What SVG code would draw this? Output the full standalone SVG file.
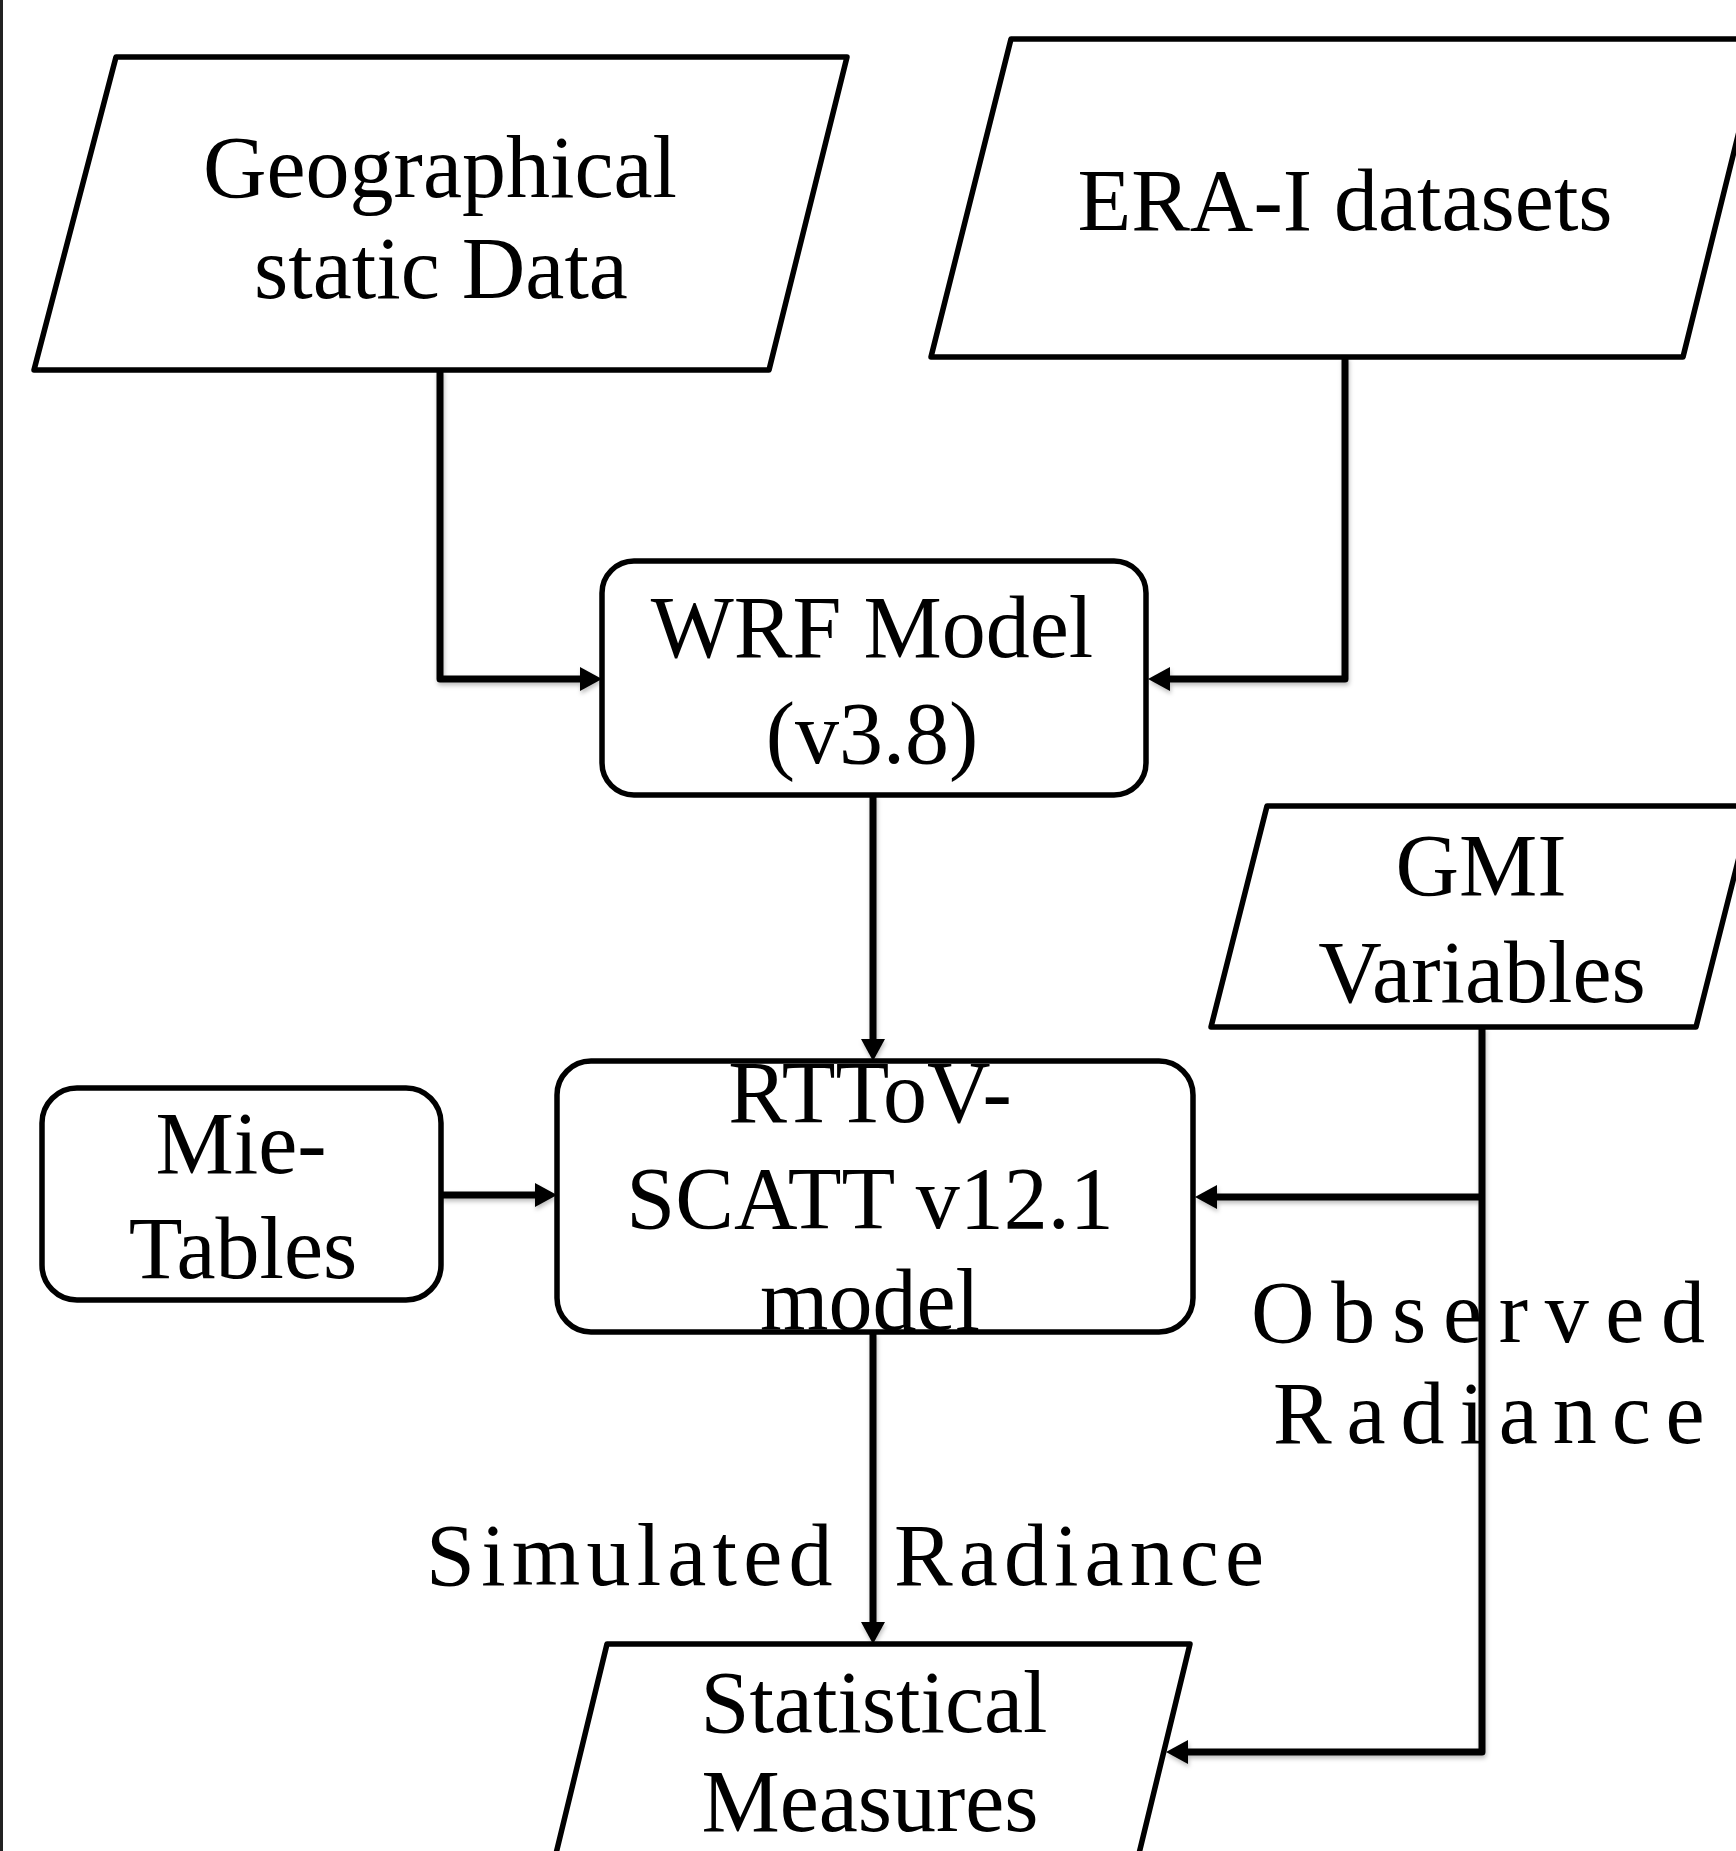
<svg xmlns="http://www.w3.org/2000/svg" width="1736" height="1851" viewBox="0 0 1736 1851">
  <style>
    .shape { fill: #ffffff; stroke: #000000; stroke-width: 5.5; stroke-linejoin: round; }
    .lbl { font-family: "Liberation Serif", "Times New Roman", serif; font-size: 88px; fill: #000000; text-anchor: middle; }
    .free { font-family: "Liberation Serif", "Times New Roman", serif; font-size: 88px; fill: #000000; }
    .conn { fill: none; stroke: #000000; stroke-width: 7; stroke-linejoin: round; }
  </style>
  <defs>
    <marker id="arrow" viewBox="0 0 22 24" markerWidth="22" markerHeight="24" refX="0" refY="12" markerUnits="userSpaceOnUse" orient="auto">
      <path d="M0,0 L22,12 L0,24 Z" fill="#000000"/>
    </marker>
    <filter id="shadow" x="-10%" y="-10%" width="120%" height="120%">
      <feDropShadow dx="1" dy="3" stdDeviation="2" flood-color="#000000" flood-opacity="0.25"/>
    </filter>
  </defs>

  <rect x="0" y="0" width="1736" height="1851" fill="#ffffff"/>
  <line x1="1.5" y1="0" x2="1.5" y2="1851" stroke="#222222" stroke-width="3"/>

  <g id="connectors" filter="url(#shadow)">
    <path class="conn" d="M440,370 V679 H580" marker-end="url(#arrow)"/>
    <path class="conn" d="M1345,357 V679 H1170" marker-end="url(#arrow)"/>
    <path class="conn" d="M873,795 V1039" marker-end="url(#arrow)"/>
    <path class="conn" d="M441,1195 H535" marker-end="url(#arrow)"/>
    <path class="conn" d="M1482,1027 V1752 H1188" marker-end="url(#arrow)"/>
    <path class="conn" d="M1482,1197 H1217" marker-end="url(#arrow)"/>
    <path class="conn" d="M873,1333 V1622" marker-end="url(#arrow)"/>
  </g>

  <g id="geographical">
    <polygon class="shape" points="116,57 847,57 769,370 34,370"/>
    <text class="lbl" x="440" y="197">Geographical</text>
    <text class="lbl" x="441" y="298">static Data</text>
  </g>

  <g id="era">
    <polygon class="shape" points="1011,39 1762,39 1683,357 931,357"/>
    <text class="lbl" x="1345" y="230">ERA-I datasets</text>
  </g>

  <g id="wrf">
    <rect class="shape" x="602" y="561" width="544" height="234" rx="32" ry="32"/>
    <text class="lbl" x="872" y="657">WRF Model</text>
    <text class="lbl" x="872" y="763">(v3.8)</text>
  </g>

  <g id="gmi">
    <polygon class="shape" points="1267,806 1752,806 1696,1027 1211,1027"/>
    <text class="lbl" x="1481" y="895">GMI</text>
    <text class="lbl" x="1482" y="1002">Variables</text>
  </g>

  <g id="mie">
    <rect class="shape" x="42" y="1088" width="399" height="212" rx="35" ry="35"/>
    <text class="lbl" x="241" y="1173">Mie-</text>
    <text class="lbl" x="243" y="1278">Tables</text>
  </g>

  <g id="rttov">
    <rect class="shape" x="557" y="1061" width="636" height="271" rx="34" ry="34"/>
    <text class="lbl" x="870" y="1122">RTToV-</text>
    <text class="lbl" x="870" y="1228">SCATT v12.1</text>
    <text class="lbl" x="870" y="1330">model</text>
  </g>

  <g id="statistical">
    <polygon class="shape" points="607,1644 1190,1644 1135,1870 552,1870"/>
    <text class="lbl" x="874" y="1732">Statistical</text>
    <text class="lbl" x="870" y="1831">Measures</text>
  </g>

  <g id="edge-labels">
    <text class="free" y="1585"><tspan x="426" letter-spacing="6.2">Simulated</tspan><tspan x="894" letter-spacing="6.1">Radiance</tspan></text>
    <text class="free"><tspan x="1251" y="1342" letter-spacing="16.7">Observed</tspan><tspan x="1273" y="1443" letter-spacing="14.9">Radiance</tspan></text>
  </g>
</svg>
